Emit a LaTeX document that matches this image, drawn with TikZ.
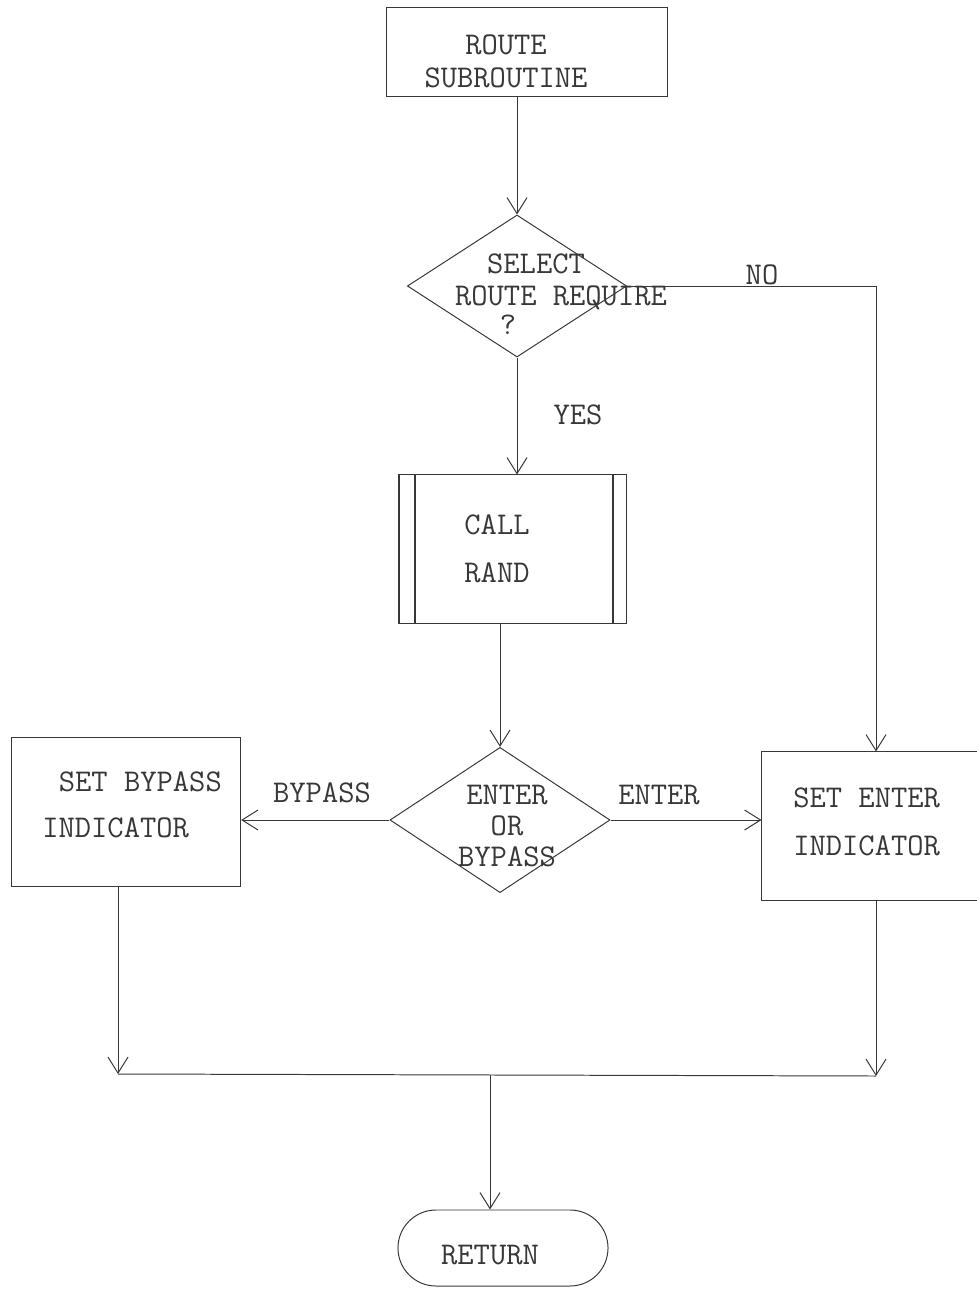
\documentclass[tikz,border=0pt]{standalone}
\usepackage{fontspec}
\usetikzlibrary{arrows.meta,positioning,shapes.geometric,shapes.misc}
\definecolor{inkgray}{RGB}{55,55,55}
\newcommand{\typefont}{\ttfamily\fontsize{22.5}{23.5}\selectfont}

\begin{document}
\begin{tikzpicture}[x=0.025cm,y=-0.025cm,
  line/.style={draw=inkgray, line width=0.7pt},
  arr/.style={line, -{Straight Barb[length=4mm,width=5mm]}},
  box/.style={line, rectangle, inner sep=0pt},
  decision/.style={line, diamond, inner sep=0pt},
  term/.style={line, rounded rectangle, inner sep=0pt},
  txt/.style={font=\typefont, text=inkgray, inner sep=0pt, align=center}]
\useasboundingbox (0,0) rectangle (977,1289);
\clip (0,0) rectangle (977,1289);
% entry
\node[box, minimum width=7.03cm, minimum height=2.2cm] (start) at (527,52) {};
\node[txt] (start-t) at (506,61) {ROUTE\\SUBROUTINE};
% first decision
\node[decision, minimum width=5.48cm, minimum height=3.55cm] (sel) at (517,286) {};
\node[txt] (sel-a) at (536,264) {SELECT};
\node[txt] (sel-b) at (561,298) {ROUTE REQUIRE};
\node[txt] (sel-c) at (508,325) {?};
% predefined process
\node[box, minimum width=5.68cm, minimum height=3.7cm] (call) at (513,549) {};
\draw[line, line width=1.8pt] (call.north west) -- (call.south west);
\draw[line, line width=1.8pt] ([xshift=0.4cm]call.north west) -- ([xshift=0.4cm]call.south west);
\draw[line, line width=1.8pt] ([xshift=-0.35cm]call.north east) -- ([xshift=-0.35cm]call.south east);
\node[txt] (call-t) at (497,549) {CALL\\[10.6pt]RAND};
% second decision
\node[decision, minimum width=5.5cm, minimum height=3.63cm] (choice) at (500,820) {};
\node[txt] (choice-t) at (507,826) {ENTER\\[-1.5pt]OR\\[-1.5pt]BYPASS};
% indicators
\node[box, minimum width=5.73cm, minimum height=3.73cm] (bypass) at (126,812) {};
\node[txt, anchor=west, align=left] (bypass-t) at (42,805) {\hspace*{0.525em}SET BYPASS\\[9pt]INDICATOR};
\node[box, minimum width=5.7cm, minimum height=3.7cm] (enter) at (876,826) {};
\node[txt, anchor=west, align=left] (enter-t) at (793,822) {SET ENTER\\[11pt]INDICATOR};
% exit
\node[term, minimum width=5.25cm, minimum height=1.9cm] (ret) at (503,1248) {};
\node[txt] (ret-t) at (490,1255) {RETURN};
% branch labels
\node[txt] (no) at (762,275) {NO};
\node[txt] (yes) at (578,415) {YES};
\node[txt] (lbl-bypass) at (322,793) {BYPASS};
\node[txt] (lbl-enter) at (659,795) {ENTER};
% connectors
\draw[arr] (sel.north |- start.south) -- (sel.north);
\draw[arr] (sel.east) -| (enter.north);
\draw[arr] (sel.south) -- (sel.south |- call.north);
\draw[arr] (choice.north |- call.south) -- (choice.north);
\draw[arr] (choice.west) -- (choice.west -| bypass.east);
\draw[arr] (choice.east) -- (choice.east -| enter.west);
\coordinate (join-l) at (118,1074);
\coordinate (join-r) at (876,1076);
\coordinate (join-m) at (490,1075);
\draw[arr] (bypass.south -| join-l) -- (join-l);
\draw[arr] (enter.south) -- (join-r);
\draw[line] (join-l) -- (join-r);
\draw[arr] (join-m) -- (join-m |- ret.north);
\end{tikzpicture}
\end{document}
